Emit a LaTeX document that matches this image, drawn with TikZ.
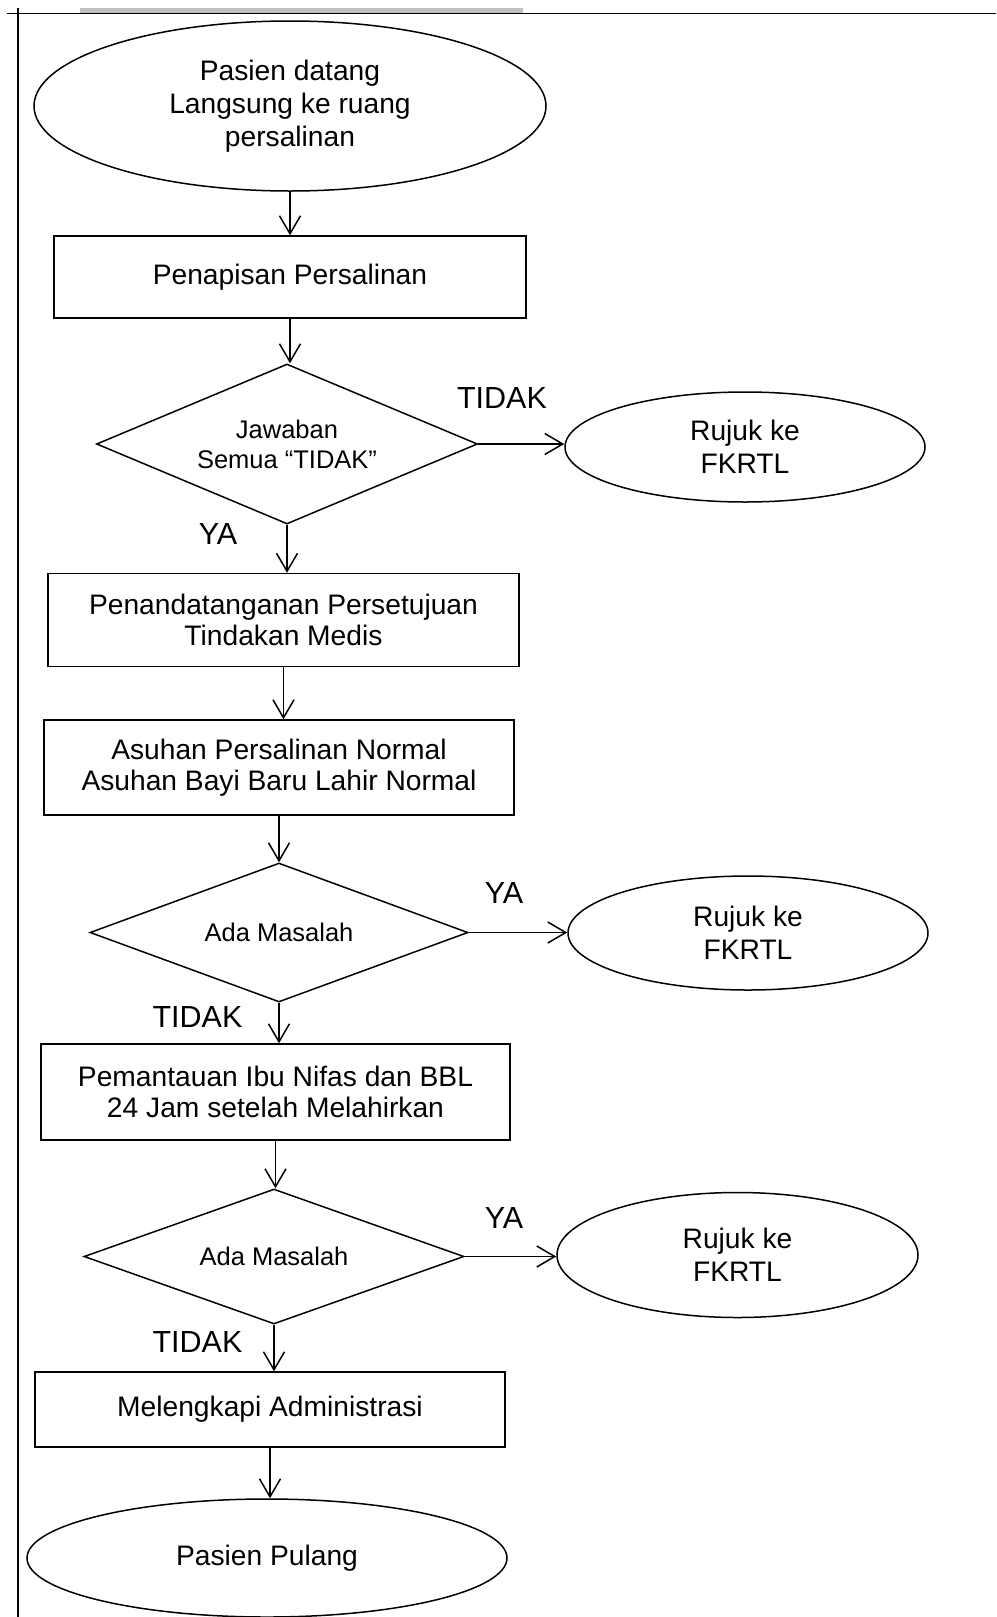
\documentclass[tikz,border=0pt]{standalone}
\usepackage{fontspec}
\setmainfont{Liberation Sans}
\usetikzlibrary{shapes.geometric,arrows.meta}

\begin{document}
\begin{tikzpicture}[x=0.5pt,y=-0.5pt,line width=0.75pt,
  >={Straight Barb[length=9pt,width=10.5pt]},
  proc/.style={draw,rectangle,inner sep=0pt,align=center,
    font=\fontsize{14.1}{15.5}\selectfont},
  term/.style={draw,ellipse,inner sep=0pt,align=center,
    font=\fontsize{14.1}{16.5}\selectfont},
  decide/.style={draw,diamond,aspect=2.5,inner sep=0pt,align=center,
    font=\fontsize{12.75}{15}\selectfont},
  lbl/.style={anchor=base,inner sep=0pt,font=\fontsize{15.25}{17}\selectfont}]
  % Page size
  \useasboundingbox (0,0) rectangle (996,1617);
  %
  % Page frame
  \fill[black!25] (80,7.5) rectangle (523,12.5);
  \draw (7,13.3) -- (996,13.3);
  \draw (18,8) -- (18,1617);
  %
  % Main column
  \node[term,minimum width=256pt,minimum height=85pt] (start) at (290,106)
    {Pasien datang\\Langsung ke ruang\\persalinan};
  \node[proc,minimum width=236pt,minimum height=41pt] (screen) at (290,277)
    {Penapisan Persalinan};
  \node[decide,minimum width=190.5pt,minimum height=80pt] (ask) at (287,444)
    {Jawaban\\Semua “TIDAK”};
  \node[proc,minimum width=235.5pt,minimum height=46.5pt] (consent) at (283.5,620)
    {Penandatanganan Persetujuan\\Tindakan Medis};
  \node[proc,minimum width=235pt,minimum height=47.5pt] (care) at (279,767.5)
    {Asuhan Persalinan Normal\\Asuhan Bayi Baru Lahir Normal};
  \node[decide,minimum width=189pt,minimum height=69.5pt] (probA) at (279,932.5)
    {Ada Masalah};
  \node[proc,minimum width=234.5pt,minimum height=48pt] (watch) at (275.5,1092)
    {Pemantauan Ibu Nifas dan BBL\\24 Jam setelah Melahirkan};
  \node[decide,minimum width=190pt,minimum height=67.5pt] (probB) at (274,1256.5)
    {Ada Masalah};
  \node[proc,minimum width=235pt,minimum height=37.5pt] (admin) at (270,1409.5)
    {Melengkapi Administrasi};
  \node[term,minimum width=240pt,minimum height=59pt] (finish) at (267,1558)
    {Pasien Pulang};
  %
  % Referrals
  \node[term,minimum width=180pt,minimum height=55pt] (refA) at (745,447)
    {Rujuk ke\\FKRTL};
  \node[term,minimum width=180pt,minimum height=57pt] (refB) at (748,933)
    {Rujuk ke\\FKRTL};
  \node[term,minimum width=180.5pt,minimum height=62.5pt] (refC) at (737.5,1255)
    {Rujuk ke\\FKRTL};
  %
  % Arrows
  \draw[->] (start.south) -- (start.south |- screen.north);
  \draw[->] (screen.south) -- (screen.south |- ask.north);
  \draw[->] (ask.south) -- (ask.south |- consent.north);
  \draw[->] (consent.south) -- (consent.south |- care.north);
  \draw[->] (care.south) -- (care.south |- probA.north);
  \draw[->] (probA.south) -- (probA.south |- watch.north);
  \draw[->] (watch.south) -- (watch.south |- probB.north);
  \draw[->] (probB.south) -- (probB.south |- admin.north);
  \draw[->] (admin.south) -- (admin.south |- finish.north);
  \draw[->] (ask.east) -- (ask.east -| refA.west);
  \draw[->] (probA.east) -- (probA.east -| refB.west);
  \draw[->] (probB.east) -- (probB.east -| refC.west);
  %
  % Labels
  \node[lbl] (noA) at (502,408) {TIDAK};
  \node[lbl] (yesA) at (218,544) {YA};
  \node[lbl] (yesB) at (504,903) {YA};
  \node[lbl] (noB) at (197.5,1027) {TIDAK};
  \node[lbl] (yesC) at (504,1228) {YA};
  \node[lbl] (noC) at (197.5,1352) {TIDAK};
  %
\end{tikzpicture}
\end{document}
